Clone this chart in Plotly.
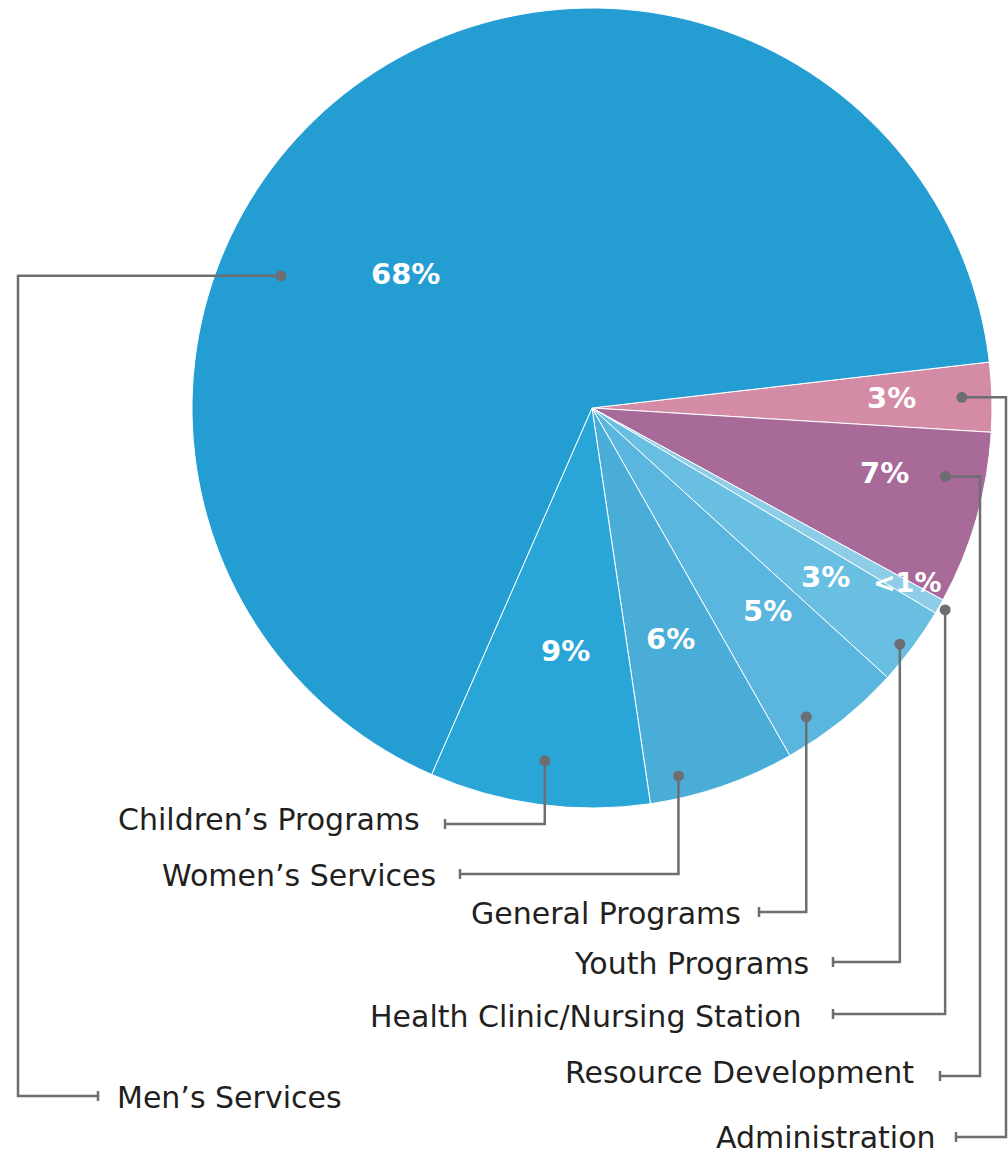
import math
import plotly.graph_objects as go

# ---- data ----
categories = ["Administration", "Resource Development", "Health Clinic/Nursing Station",
              "Youth Programs", "General Programs", "Women’s Services",
              "Children’s Programs", "Men’s Services"]
values = [2.8, 7.0, 0.6, 3.2, 5.0, 5.9, 8.9, 66.6]
pct_labels = ["3%", "7%", "<1%", "3%", "5%", "6%", "9%", "68%"]
colors = ["#D48BA6", "#A86A98", "#8ECDE8", "#69BFE2", "#5AB5DF", "#4AADD7", "#29A6D7", "#249DD2"]

# ---- layout constants (pixels) ----
W, H = 1008, 1154
CX, CY, R = 592, 408, 400
ROTATION = 83.4
LINE = "#6D6E71"
TEXT = "#231F20"
FONT = "DejaVu Sans"

# percent label placement: (angle offset from slice middle, radius fraction)
pct_place = [(-0.3, 0.75), (-3.6, 0.75), (-0.7, 0.90), (-0.6, 0.72),
             (-2.2, 0.67), (0.3, 0.61), (-1.5, 0.61), (-17.9, 0.575)]
# leader dot placement: (angle offset from slice middle, radius fraction)
dot_place = [(-0.1, 0.925), (-5.1, 0.90), (0.0, 1.017), (0.9, 0.97),
             (3.9, 0.94), (5.8, 0.945), (0.0, 0.89), (-30.5, 0.845)]
# leader routes: (first horizontal x or None, row y, end x, label x, label anchor, label y)
routes = [
    (1006, 1137, 956, 938, "right", 1137),
    (980, 1076, 940, 916, "right", 1072),
    (None, 1014, 833, 804, "right", 1016),
    (None, 962, 833, 811, "right", 963),
    (None, 912, 759, 743, "right", 913),
    (None, 874, 460, 438, "right", 875),
    (None, 824, 445, 422, "right", 819),
    (18, 1096, 98, 115, "left", 1097),
]

fig = go.Figure()
fig.add_trace(go.Pie(
    labels=categories, values=values, sort=False, direction="clockwise",
    rotation=ROTATION, textinfo="none", hoverinfo="label+percent",
    marker=dict(colors=colors, line=dict(color="white", width=1)),
    domain=dict(x=[(CX - R) / W, (CX + R) / W],
                y=[1 - (CY + R) / H, 1 - (CY - R) / H]),
    showlegend=False,
))

total = sum(values)
start = ROTATION
shapes, annotations = [], []
for i, v in enumerate(values):
    span = 360.0 * v / total
    mid = start + span / 2
    start += span

    def polar(off, frac):
        a = math.radians(mid + off)
        return CX + frac * R * math.sin(a), CY - frac * R * math.cos(a)

    lx, ly = polar(*pct_place[i])
    size = 27 if pct_labels[i].startswith("<") else 29
    annotations.append(dict(x=lx, y=ly, xref="x", yref="y", text=pct_labels[i], showarrow=False,
                            font=dict(family=FONT, size=size, color="white", weight="bold"),
                            xanchor="center", yanchor="middle"))
    dx, dy = polar(*dot_place[i])
    hx, ry, ex, tx, anc, ty = routes[i]
    if hx is None:
        path = f"M{dx},{dy} L{dx},{ry} L{ex},{ry}"
    else:
        path = f"M{dx},{dy} L{hx},{dy} L{hx},{ry} L{ex},{ry}"
    shapes.append(dict(type="path", path=path, xref="x", yref="y",
                       line=dict(color=LINE, width=2.5), layer="above"))
    shapes.append(dict(type="line", x0=ex, x1=ex, y0=ry - 5, y1=ry + 5, xref="x", yref="y",
                       line=dict(color=LINE, width=2.5), layer="above"))
    shapes.append(dict(type="circle", x0=dx - 5.5, x1=dx + 5.5, y0=dy - 5.5, y1=dy + 5.5,
                       xref="x", yref="y", fillcolor=LINE, line=dict(width=0), layer="above"))
    annotations.append(dict(x=tx, y=ty, xref="x", yref="y", text=categories[i], showarrow=False,
                            font=dict(family=FONT, size=30, color=TEXT),
                            xanchor=anc, yanchor="middle"))

fig.update_layout(
    width=W, height=H, margin=dict(l=0, r=0, t=0, b=0),
    paper_bgcolor="white", plot_bgcolor="rgba(0,0,0,0)",
    xaxis=dict(range=[0, W], visible=False, fixedrange=True),
    yaxis=dict(range=[H, 0], visible=False, fixedrange=True),
    shapes=shapes, annotations=annotations,
)
fig.write_html("out.html", config={"displayModeBar": False},
               post_script="document.body.style.margin='0';document.body.style.overflow='hidden';")
